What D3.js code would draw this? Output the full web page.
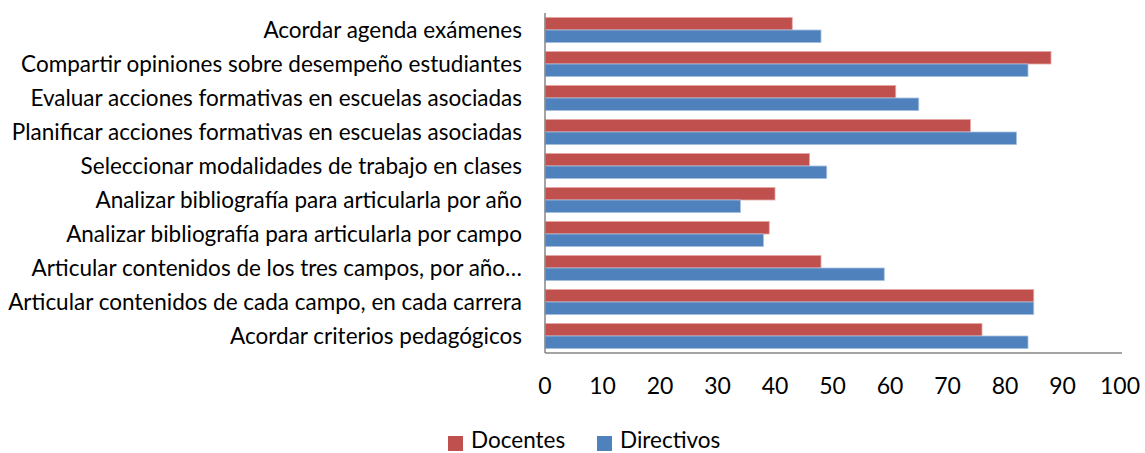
<!DOCTYPE html>
<html>
<head>
<meta charset="utf-8">
<script src="https://cdn.jsdelivr.net/npm/d3@7"></script>
<style>
  body { margin: 0; background: #fff; }
  text { font-family: Lato, "Open Sans", sans-serif; fill: #000; }
</style>
</head>
<body>
<div class="bar_chart"></div>
<script>
// categories, top to bottom as shown
var categories = [
    "Acordar agenda exámenes",
    "Compartir opiniones sobre desempeño estudiantes",
    "Evaluar acciones formativas en escuelas asociadas",
    "Planificar acciones formativas en escuelas asociadas",
    "Seleccionar modalidades de trabajo en clases",
    "Analizar bibliografía para articularla por año",
    "Analizar bibliografía para articularla por campo",
    "Articular contenidos de los tres campos, por año…",
    "Articular contenidos de cada campo, en cada carrera",
    "Acordar criterios pedagógicos"
];
var docentes   = [43, 88, 61, 74, 46, 40, 39, 48, 85, 76];
var directivos = [48, 84, 65, 82, 49, 34, 38, 59, 85, 84];
var seriesNames = ["Docentes", "Directivos"];
var xTicks = [0, 10, 20, 30, 40, 50, 60, 70, 80, 90, 100];

var margin = {top: 13, left: 545},
    width = 575,
    height = 340;

var colors = {Docentes: "#C0504D", Directivos: "#4F81BD"};
var strokes = {Docentes: "#E6A9A7", Directivos: "#A9C1E0"};

var data = categories.map(function(c, i) {
    return {cat: c, Docentes: docentes[i], Directivos: directivos[i]};
});

var x = d3.scaleLinear()
    .domain([0, 100])
    .range([0, width]);

var y0 = d3.scaleBand()
    .domain(categories)
    .range([0, height])
    .paddingInner(0.26)
    .paddingOuter(0.13);

var y1 = d3.scaleBand()
    .domain(seriesNames)
    .range([0, y0.bandwidth()]);

var svg = d3.select(".bar_chart")
    .append("svg")
    .attr("width", 1145)
    .attr("height", 453);

var g = svg.append("g")
    .attr("transform", "translate(" + margin.left + "," + margin.top + ")");

var groups = g.append("g")
    .selectAll("g")
    .data(data)
    .enter().append("g")
    .attr("transform", function(d) { return "translate(0," + y0(d.cat) + ")"; });

groups.selectAll("rect")
    .data(function(d) { return seriesNames.map(function(k) { return {key: k, value: d[k]}; }); })
    .enter().append("rect")
    .attr("x", 0)
    .attr("y", function(d) { return y1(d.key); })
    .attr("width", function(d) { return x(d.value); })
    .attr("height", y1.bandwidth())
    .attr("fill", function(d) { return colors[d.key]; })
    .attr("stroke", function(d) { return strokes[d.key]; })
    .attr("stroke-width", 0.8);

// category labels
g.append("g")
    .selectAll("text")
    .data(categories)
    .enter().append("text")
    .attr("x", -23)
    .attr("y", function(d) { return y0(d) + y0.bandwidth() / 2; })
    .attr("dy", "0.35em")
    .attr("text-anchor", "end")
    .attr("font-size", 22.5)
    .text(function(d) { return d; });

// x tick labels
g.append("g")
    .selectAll("text")
    .data(xTicks)
    .enter().append("text")
    .attr("x", function(d) { return x(d); })
    .attr("y", 373)
    .attr("dy", "0.35em")
    .attr("text-anchor", "middle")
    .attr("font-size", 23)
    .text(function(d) { return d; });

// axis lines
g.append("line")
    .attr("x1", 0).attr("x2", 0)
    .attr("y1", 0).attr("y2", height)
    .attr("stroke", "#868686")
    .attr("stroke-width", 1.5);

g.append("line")
    .attr("x1", 0).attr("x2", width + 2)
    .attr("y1", height).attr("y2", height)
    .attr("stroke", "#868686")
    .attr("stroke-width", 1.5);

// legend
var legendX = [448, 597];
var legend = svg.append("g")
    .selectAll("g")
    .data(seriesNames)
    .enter().append("g")
    .attr("transform", function(d, i) { return "translate(" + legendX[i] + ",436)"; });

legend.append("rect")
    .attr("width", 15)
    .attr("height", 15)
    .attr("fill", function(d) { return colors[d]; });

legend.append("text")
    .attr("x", 23)
    .attr("y", 4)
    .attr("dy", "0.35em")
    .attr("font-size", 22.5)
    .text(function(d) { return d; });
</script>
</body>
</html>
